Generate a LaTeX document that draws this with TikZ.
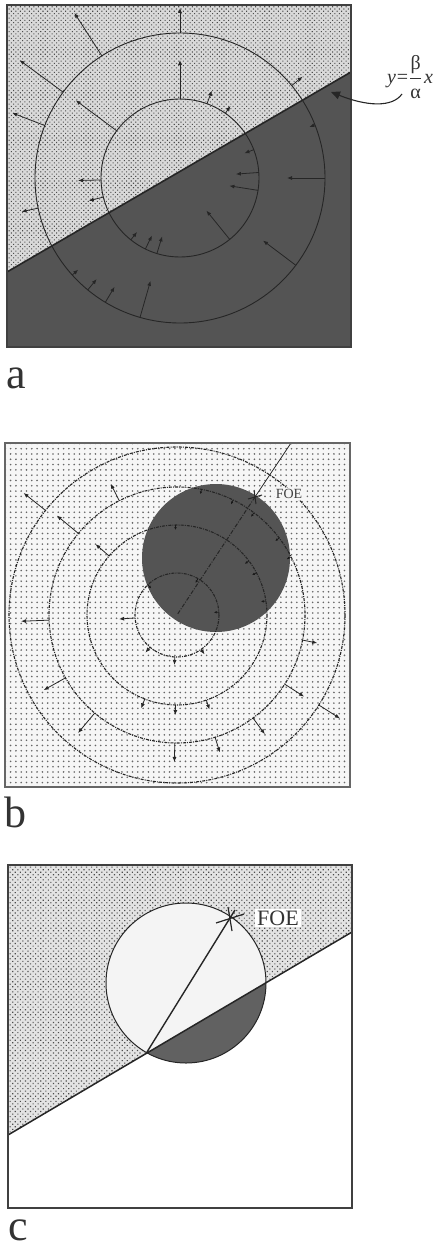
\documentclass[tikz,border=0pt]{standalone}
\usepackage{fontspec}
\setmainfont{Liberation Serif}
\usetikzlibrary{calc,arrows.meta,patterns.meta}
\tikzset{
  checkA/.style={preaction={fill=gray!30}, pattern={Dots[distance=3.2pt,radius=0.75pt,angle=45]}, pattern color=black!70},
  checkC/.style={preaction={fill=gray!22}, pattern={Dots[distance=3.6pt,radius=0.8pt,angle=45]}, pattern color=black!70},
  dotB/.style={preaction={fill=gray!7}, pattern={Dots[distance=5.3pt,radius=0.9pt]}, pattern color=black!60},
  darkfill/.style={fill=black!67},
  frame/.style={draw=black!75, line width=1.6pt},
  ring/.style={draw=black!85, line width=0.9pt},
  dring/.style={draw=black!85, line width=1.1pt, dash pattern=on 3pt off 1.1pt on 1pt off 1.1pt},
  vec/.style={draw=black!85, line width=0.8pt, -{Latex[length=5pt,width=4pt]}},
  tick/.style={draw=black!90, line width=0.7pt, -{Latex[length=2.8pt,width=2.6pt]}},
  lab/.style={font=\fontsize{44}{50}\selectfont, inner sep=0pt, text=black!80},
}
\begin{document}
\begin{tikzpicture}[x=1pt,y=-1pt]
\useasboundingbox (0,0) rectangle (441,1249);

% ================= panel a =================
\coordinate (a1) at (7,5);
\coordinate (a2) at (351,347);
\coordinate (aL) at (7,272);
\coordinate (aR) at (351,72);
\coordinate (ca) at (180,178);
\path[checkA] (7,5) -- (351,5) -- (aR) -- (aL) -- cycle;
\path[darkfill] (aL) -- (aR) -- (351,347) -- (7,347) -- cycle;
\draw[ring] (ca) circle[radius=145];
\draw[ring] (ca) circle[radius=79];
\foreach \ang/\rad/\len in {-90/145/25, -122.6/145/51, -143.7/145/54, -158.8/145/35, 168/145/17, -39.6/145/14,
  0/145/-38, 37/145/-41, 106/145/-38, 121/145/-18, 129.5/145/-14, 138/145/-8, -21.5/145/-6,
  -90/79/39, -143.3/79/51, -70/79/14, -55/79/9, 178.6/79/23, 166/79/15,
  -4/79/-23, 9/79/-29, -21/79/-10, 51/79/-37, 107/79/-18, 116/79/-15, 128.5/79/-10}
  { \draw[vec] ($(ca)+(\ang:\rad)$) -- ($(ca)+(\ang:{\rad+\len})$); }
\draw[black!85, line width=1.6pt] (aL) -- (aR);
\draw[frame] (a1) rectangle (a2);
\node[font=\fontsize{20}{22}\selectfont, inner sep=0pt, text=black!80] (eq) at (410,77)
  {\itshape y\upshape\kern1pt=\kern1pt$\displaystyle\frac{\hbox{β}}{\hbox{α}}$\kern2pt\itshape x};
\coordinate (eqtail) at (402,94);
\coordinate (eqtip) at (331,92);
\draw[black!85, line width=1.1pt, -{Triangle[length=9pt,width=8pt]}] (eqtail) .. controls (392,108) and (366,106) .. (eqtip);
\node[lab, anchor=base west] (la) at (6,388) {a};

% ================= panel b =================
\coordinate (b1) at (5,443);
\coordinate (b2) at (350,787);
\coordinate (cb) at (177,615);
\coordinate (cd) at (216,558);
\coordinate (foeb) at (255,497);
\coordinate (topb) at (291,443);
\path[dotB] (b1) rectangle (b2);
\path[darkfill] (cd) circle[radius=74];
\foreach \rr in {168,128,90,42} { \draw[dring] (cb) circle[radius=\rr]; }
\foreach \ang/\rad/\len in {-141.5/168/28, 32.4/168/25,
  -140.4/128/28, -116.8/128/19, 177.7/128/28, 150.6/128/25, 130/128/26, 91/128/19, 72.7/128/16, 53.6/128/20, 32.7/128/23, 11.3/128/15,
  -139/90/18, 111/90/10, 91/90/10, 71/90/10,
  176/42/16, 130/42/7, 93/42/8, 55/42/6}
  { \draw[vec] ($(cb)+(\ang:\rad)$) -- ($(cb)+(\ang:{\rad+\len})$); }
\foreach \ang/\rad in {-79/128, -64/128, -53/128, -37/128, -27/128, -91/90, -37/90, -28/90, -9/90, -4/42, -60/42, -134/42}
  { \draw[tick] ($(cb)+(\ang:\rad)$) -- ($(cb)+(\ang:{\rad-5})$); }
\draw[black!85, line width=0.8pt] (foeb) -- (topb);
\draw[black!85, line width=1pt, dash pattern=on 4pt off 1.5pt on 1pt off 1.5pt] (foeb) -- (cb);
\draw[black!85, line width=1pt] ($(foeb)+(-7,2)$) -- ($(foeb)+(7,-2)$);
\draw[black!85, line width=1pt] ($(foeb)+(-1,-7)$) -- ($(foeb)+(1,7)$);
\node[fill=gray!7, inner sep=1pt, font=\fontsize{14}{16}\selectfont, text=black!75] (foeB) at (289,494) {FOE};
\draw[draw=black!60, line width=1.2pt] (b1) rectangle (b2);
\node[lab, anchor=base west] (lb) at (4,827) {b};

% ================= panel c =================
\coordinate (c1) at (8,865);
\coordinate (c2) at (352,1208);
\coordinate (cL) at (8,1135);
\coordinate (cR) at (352,932);
\coordinate (cc) at (186,983);
\coordinate (foec) at (230,918);
\coordinate (cP) at (147,1052);
\path[checkC] (c1) -- (352,865) -- (cR) -- (cL) -- cycle;
\begin{scope}
  \clip (cc) circle[radius=80];
  \fill[gray!9] (c1) -- (352,865) -- (cR) -- (cL) -- cycle;
  \fill[black!62] (cL) -- (cR) -- (c2) -- (8,1208) -- cycle;
\end{scope}
\draw[black!85, line width=1pt] (cc) circle[radius=80];
\draw[black!85, line width=1.5pt] (cL) -- (cR);
\draw[black!85, line width=1.4pt] (cP) -- ($(cP)!1.06!(foec)$);
\draw[black!85, line width=1.2pt] ($(foec)+(-14,5)$) -- ($(foec)+(14,-4)$);
\draw[black!85, line width=1.2pt] ($(foec)+(-2,-11)$) -- ($(foec)+(2,13)$);
\node[fill=white, inner sep=2pt, font=\fontsize{22}{25}\selectfont, text=black!80] (foeC) at (278,918) {FOE};
\draw[frame] (c1) rectangle (c2);
\node[lab, anchor=base west] (lc) at (8,1240) {c};
\end{tikzpicture}
\end{document}
